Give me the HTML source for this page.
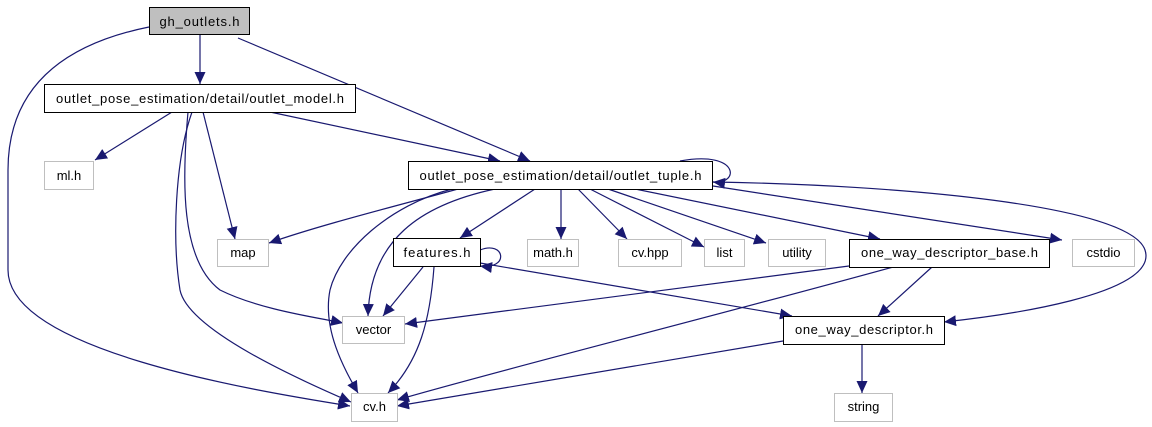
<!DOCTYPE html>
<html><head><meta charset="utf-8"><style>
html,body{margin:0;padding:0;background:#fff;width:1152px;height:427px;overflow:hidden}
svg{display:block}
text{font-family:"Liberation Sans",sans-serif;font-size:13px;fill:#000}
</style></head><body>
<svg width="1152" height="427" viewBox="0 0 1152 427" xmlns="http://www.w3.org/2000/svg">
<defs>
<marker id="a" viewBox="0 0 12 12" refX="12" refY="6" markerWidth="12" markerHeight="12" markerUnits="userSpaceOnUse" orient="auto">
<path d="M0,0.5 L12,6 L0,11.5 z" fill="#191970"/>
</marker>
</defs>
<g fill="none" stroke="#191970" stroke-width="1.2" marker-end="url(#a)">
<path d="M149,27 C60,45 8,90 8,170 L8,270 C8,350 250,390 350,406"/>
<path d="M200,34 L200,84"/>
<path d="M238,38 L530,161"/>
<path d="M172,112 L95,160"/>
<path d="M192,112 C175,160 172,240 180,290 C188,330 300,380 351,402"/>
<path d="M188,112 C182,180 180,260 220,290 C260,310 320,318 343,323"/>
<path d="M203,112 L235,239"/>
<path d="M270,112 L500,161"/>
<path d="M680,161 C740,150 740,185 713,182"/>
<path d="M458,189 C400,205 320,225 269,243"/>
<path d="M452,189 C390,205 340,250 330,290 C322,330 345,370 358,393"/>
<path d="M495,189 C420,205 370,240 368,316"/>
<path d="M535,189 L460,238"/>
<path d="M561,189 L561,239"/>
<path d="M578,189 L627,239"/>
<path d="M590,189 L704,247"/>
<path d="M608,189 L766,243"/>
<path d="M635,189 L880,239"/>
<path d="M713,186 L1062,240"/>
<path d="M713,182 C900,185 1130,205 1145,250 C1160,295 1000,316 944,322"/>
<path d="M480,250 C505,240 510,270 480,266"/>
<path d="M423,267 L383,316"/>
<path d="M434,267 C430,320 420,360 388,393"/>
<path d="M480,263 L792,316"/>
<path d="M849,266 L405,324"/>
<path d="M893,267 C700,320 500,370 397,400"/>
<path d="M932,267 L878,316"/>
<path d="M783,341 L397,406"/>
<path d="M862,344 L862,393"/>
</g>
<g stroke-width="1">
<rect x="149.5" y="7.5" width="100" height="27" fill="#bfbfbf" stroke="#000"/>
<rect x="44.5" y="84.5" width="311" height="28" fill="#fff" stroke="#000"/>
<rect x="44.5" y="161.5" width="49" height="28" fill="#fff" stroke="#bfbfbf"/>
<rect x="408.5" y="161.5" width="304" height="28" fill="#fff" stroke="#000"/>
<rect x="217.5" y="239.5" width="51" height="27" fill="#fff" stroke="#bfbfbf"/>
<rect x="393.5" y="238.5" width="87" height="28" fill="#fff" stroke="#000"/>
<rect x="527.5" y="239.5" width="51" height="27" fill="#fff" stroke="#bfbfbf"/>
<rect x="618.5" y="239.5" width="63" height="27" fill="#fff" stroke="#bfbfbf"/>
<rect x="704.5" y="239.5" width="40" height="27" fill="#fff" stroke="#bfbfbf"/>
<rect x="768.5" y="239.5" width="57" height="27" fill="#fff" stroke="#bfbfbf"/>
<rect x="849.5" y="239.5" width="200" height="28" fill="#fff" stroke="#000"/>
<rect x="1072.5" y="239.5" width="62" height="27" fill="#fff" stroke="#bfbfbf"/>
<rect x="342.5" y="316.5" width="62" height="27" fill="#fff" stroke="#bfbfbf"/>
<rect x="783.5" y="316.5" width="161" height="28" fill="#fff" stroke="#000"/>
<rect x="351.5" y="393.5" width="46" height="28" fill="#fff" stroke="#bfbfbf"/>
<rect x="834.5" y="393.5" width="58" height="28" fill="#fff" stroke="#bfbfbf"/>
</g>
<g text-anchor="middle">
<text x="199.5" y="26" textLength="80">gh_outlets.h</text>
<text x="200" y="103" textLength="288">outlet_pose_estimation/detail/outlet_model.h</text>
<text x="69" y="180">ml.h</text>
<text x="560.5" y="180" textLength="282">outlet_pose_estimation/detail/outlet_tuple.h</text>
<text x="243" y="257">map</text>
<text x="437" y="257" textLength="67">features.h</text>
<text x="553" y="257">math.h</text>
<text x="650" y="257">cv.hpp</text>
<text x="724.5" y="257">list</text>
<text x="797" y="257">utility</text>
<text x="949.5" y="257" textLength="177">one_way_descriptor_base.h</text>
<text x="1103.5" y="257">cstdio</text>
<text x="373.5" y="334">vector</text>
<text x="864" y="334" textLength="138">one_way_descriptor.h</text>
<text x="374.5" y="411">cv.h</text>
<text x="863.5" y="411">string</text>
</g>
</svg>
</body></html>
